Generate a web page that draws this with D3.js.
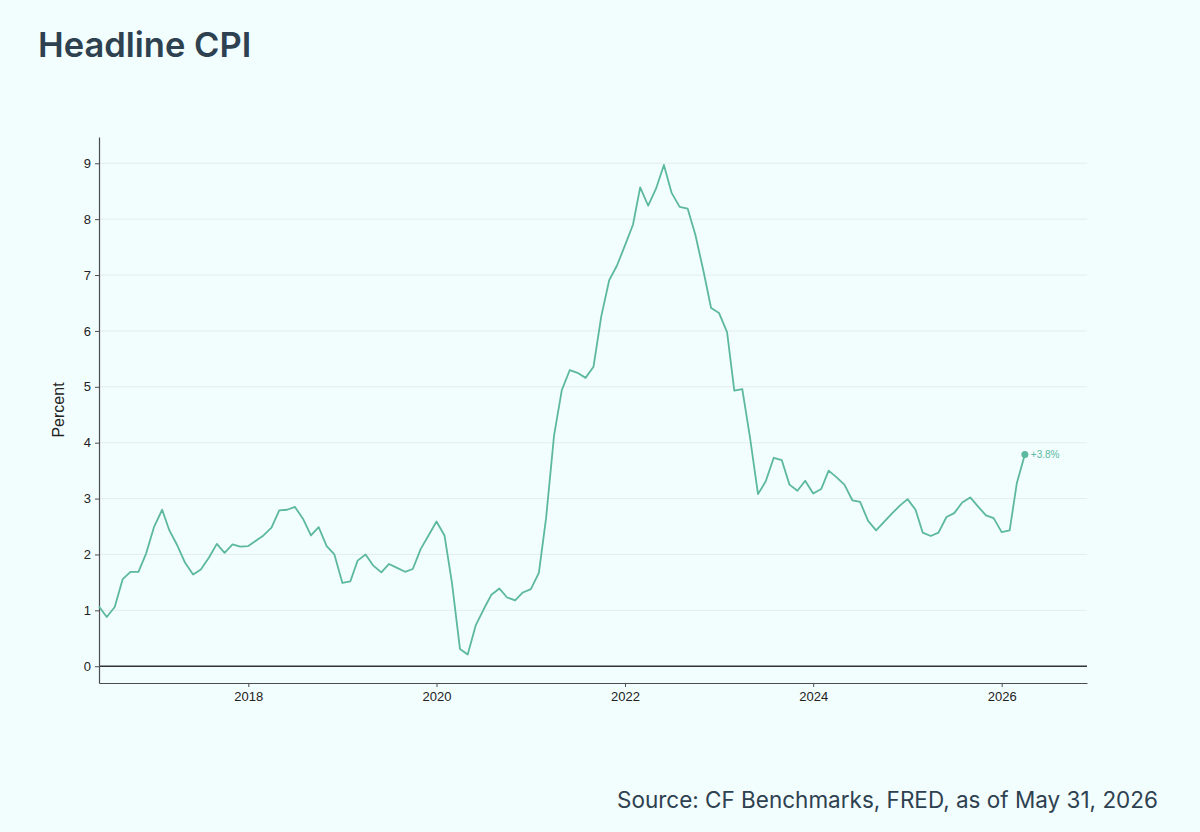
<!DOCTYPE html>
<html>
<head>
<meta charset="utf-8">
<script src="https://cdn.jsdelivr.net/npm/d3@7"></script>
<style>
  html, body { margin: 0; padding: 0; background: #f2fdfd; }
  svg { display: block; }
</style>
</head>
<body>
<svg id="chart" width="1200" height="832"></svg>
<script>
// ---- Data (monthly, starting June 2016) ----
const startMonth = "2016-06";
const cpiValues = [
  1.07, 0.88, 1.06, 1.56, 1.69, 1.69, 2.02,            // Jun-Dec 2016
  2.50, 2.80, 2.43, 2.16, 1.85, 1.64, 1.73, 1.94, 2.19, 2.03, 2.18, 2.14, // 2017
  2.15, 2.25, 2.34, 2.48, 2.79, 2.80, 2.85, 2.64, 2.34, 2.49, 2.15, 2.00, // 2018
  1.49, 1.52, 1.89, 2.00, 1.80, 1.68, 1.83, 1.76, 1.69, 1.74, 2.10, 2.34, // 2019
  2.59, 2.34, 1.49, 0.31, 0.21, 0.73, 1.01, 1.28, 1.39, 1.23, 1.18, 1.32, // 2020
  1.38, 1.67, 2.65, 4.13, 4.94, 5.30, 5.25, 5.16, 5.36, 6.26, 6.91, 7.17, // 2021
  7.53, 7.90, 8.57, 8.24, 8.54, 8.97, 8.47, 8.22, 8.19, 7.72, 7.08, 6.41, // 2022
  6.32, 5.98, 4.93, 4.96, 4.09, 3.08, 3.31, 3.73, 3.69, 3.25, 3.14, 3.32, // 2023
  3.09, 3.17, 3.50, 3.38, 3.25, 2.97, 2.94, 2.60, 2.43, 2.58, 2.73, 2.87, // 2024
  2.99, 2.80, 2.39, 2.33, 2.39, 2.67, 2.74, 2.93, 3.02, 2.86, 2.70, 2.65, // 2025
  2.40, 2.43, 3.28, 3.79                                 // Jan-Apr 2026
];
const yTicks = [0, 1, 2, 3, 4, 5, 6, 7, 8, 9];
const xTickYears = [2018, 2020, 2022, 2024, 2026];
const titleText = "Headline CPI";
const sourceText = "Source: CF Benchmarks, FRED, as of May 31, 2026";
const yLabelText = "Percent";
const endLabel = "+3.8%";

// ---- Build data ----
const parseMonth = d3.timeParse("%Y-%m");
const t0 = parseMonth(startMonth);
const data = cpiValues.map((v, i) => ({ date: d3.timeMonth.offset(t0, i), value: v }));

// ---- Layout ----
const svg = d3.select("#chart");
const plotLeft = 99, plotRight = 1087, plotTop = 137, plotBottom = 683;
const lineColor = "#5cb89f";
const axisColor = "#4d4d4d";

svg.append("rect").attr("width", 1200).attr("height", 832).attr("fill", "#f2fdfd");

const x = d3.scaleTime()
  .domain([t0, new Date(2026, 10, 28)])
  .range([plotLeft, plotRight]);
const y = d3.scaleLinear()
  .domain([-0.3, 9.47])
  .range([plotBottom, plotTop]);

// Title
svg.append("text")
  .attr("x", 38).attr("y", 57)
  .attr("font-family", "Inter, 'Open Sans', sans-serif")
  .attr("font-weight", 600)
  .attr("font-size", 34.5)
  .attr("fill", "#2e4150")
  .text(titleText);

// Gridlines
svg.append("g")
  .selectAll("line")
  .data(yTicks.filter(d => d !== 0))
  .join("line")
  .attr("x1", plotLeft).attr("x2", plotRight)
  .attr("y1", d => y(d)).attr("y2", d => y(d))
  .attr("stroke", "#e3eeee")
  .attr("stroke-width", 1);

// Zero line
svg.append("line")
  .attr("x1", plotLeft).attr("x2", plotRight)
  .attr("y1", y(0)).attr("y2", y(0))
  .attr("stroke", "#333")
  .attr("stroke-width", 1.3);

// Y axis
const yAxis = d3.axisLeft(y).tickValues(yTicks).tickSize(4).tickSizeOuter(0).tickPadding(4).tickFormat(d3.format("d"));
const gy = svg.append("g").attr("transform", `translate(${plotLeft},0)`).call(yAxis);
gy.select(".domain").attr("stroke", axisColor).attr("stroke-width", 1.2);
gy.selectAll(".tick line").attr("stroke", axisColor);
gy.selectAll(".tick text")
  .attr("font-family", "'Liberation Sans', Arial, sans-serif")
  .attr("font-size", 13).attr("fill", "#222");

// X axis
const xAxis = d3.axisBottom(x)
  .tickValues(xTickYears.map(yr => new Date(yr, 0, 1)))
  .tickSize(4).tickSizeOuter(0).tickPadding(5)
  .tickFormat(d3.timeFormat("%Y"));
const gx = svg.append("g").attr("transform", `translate(0,${plotBottom})`).call(xAxis);
gx.select(".domain").attr("stroke", axisColor).attr("stroke-width", 1.2);
gx.selectAll(".tick line").attr("stroke", axisColor);
gx.selectAll(".tick text")
  .attr("font-family", "'Liberation Sans', Arial, sans-serif")
  .attr("font-size", 13).attr("fill", "#222");

// Y label
svg.append("text")
  .attr("transform", `translate(64,${(plotTop + plotBottom) / 2}) rotate(-90)`)
  .attr("text-anchor", "middle")
  .attr("font-family", "'Liberation Sans', Arial, sans-serif")
  .attr("font-size", 16)
  .attr("fill", "#222")
  .text(yLabelText);

// Line
const line = d3.line().x(d => x(d.date)).y(d => y(d.value));
svg.append("path")
  .datum(data)
  .attr("d", line)
  .attr("fill", "none")
  .attr("stroke", lineColor)
  .attr("stroke-width", 1.8)
  .attr("stroke-linejoin", "round");

// End marker and label
const last = data[data.length - 1];
svg.append("circle")
  .attr("cx", x(last.date)).attr("cy", y(last.value))
  .attr("r", 3.5).attr("fill", lineColor);
svg.append("text")
  .attr("x", x(last.date) + 6).attr("y", y(last.value) + 3.5)
  .attr("font-family", "'Liberation Sans', Arial, sans-serif")
  .attr("font-size", 10)
  .attr("fill", lineColor)
  .text(endLabel);

// Source
svg.append("text")
  .attr("x", 1158).attr("y", 808)
  .attr("text-anchor", "end")
  .attr("font-family", "Inter, 'Open Sans', sans-serif")
  .attr("font-size", 22.5)
  .attr("fill", "#2e4150")
  .text(sourceText);
</script>
</body>
</html>
